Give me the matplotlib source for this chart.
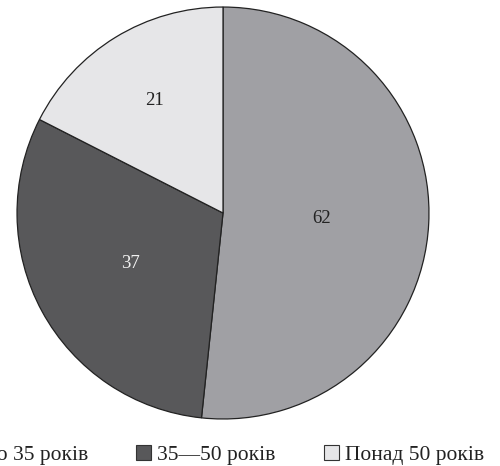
import numpy as np
import matplotlib.pyplot as plt
from matplotlib.patches import Patch

plt.rcParams['font.family'] = ['Liberation Serif', 'DejaVu Serif']

labels = ['До 35 років', '35—50 років', 'Понад 50 років']
values = [62, 37, 21]
colors = ['#a0a0a4', '#58585a', '#e6e6e8']
text_colors = ['#222222', '#f2f2f2', '#222222']
label_r = [0.48, 0.51, 0.64]

fig = plt.figure(figsize=(5.0, 4.66), dpi=100)
ax = fig.add_axes([0.034, 0.1009, 0.824, 0.884])

wedges, _ = ax.pie(values, colors=colors, startangle=90, counterclock=False,
                   wedgeprops=dict(edgecolor='#222222', linewidth=0.9))
for w, v, r, tc in zip(wedges, values, label_r, text_colors):
    mid = np.deg2rad((w.theta1 + w.theta2) / 2)
    ax.text(r * np.cos(mid), r * np.sin(mid), str(v), ha='center', va='center',
            fontsize=13.5, color=tc)
ax.set_xlim(-1, 1)
ax.set_ylim(-1, 1)
ax.set_aspect('equal')

handles = [Patch(facecolor=c, edgecolor='#333333', linewidth=0.8) for c in colors]
fig.legend(handles, labels, loc='center', bbox_to_anchor=(0.445, 0.024), ncol=3,
           frameon=False, fontsize=15.5, handlelength=0.7, handleheight=0.7,
           handletextpad=0.28, columnspacing=2.23, labelcolor='#222222')

fig.savefig('out.png', dpi=100)
